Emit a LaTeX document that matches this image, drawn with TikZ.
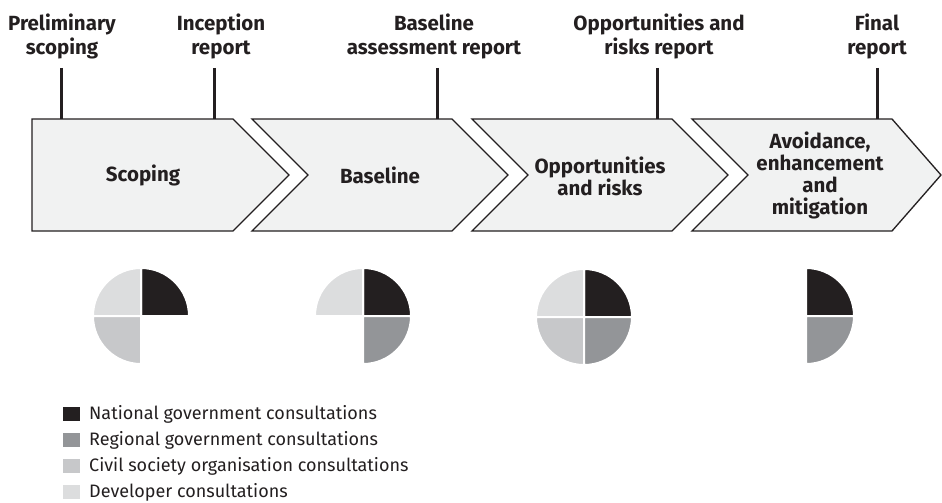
\documentclass[tikz,border=0pt]{standalone}
\usepackage{fontspec}
\setmainfont{Fira Sans}
\definecolor{ink}{HTML}{231F20}
\definecolor{panel}{HTML}{F1F2F2}
\definecolor{natc}{HTML}{231F20}
\definecolor{regc}{HTML}{939598}
\definecolor{civc}{HTML}{C7C8CA}
\definecolor{devc}{HTML}{DCDDDE}
\begin{document}
\begin{tikzpicture}[x=1pt,y=-1pt,
  milestone/.style={align=center,font=\fontsize{20.5}{24}\selectfont\bfseries,inner sep=0pt,text=ink},
  stagetext/.style={align=center,font=\fontsize{20.5}{22}\selectfont\bfseries,inner sep=0pt,text=ink},
  stagebox/.style={draw=ink,line width=1.3pt,fill=panel,line join=miter},
  tick/.style={draw=ink,line width=3pt},
  sector/.style={draw=white,line width=2pt},
  keybox/.style={minimum width=17pt,minimum height=14pt,inner sep=0pt,draw=none},
  keytext/.style={anchor=base west,font=\fontsize{18}{20}\selectfont,inner sep=0pt,text=ink}]
\useasboundingbox (0,0) rectangle (942,503);

% stage chevrons
\path[stagebox] (32,119) -- (233,119) -- (289,175) -- (233,231) -- (32,231) -- cycle;
\path[stagebox] (252,119) -- (452,119) -- (508,175) -- (452,231) -- (252,231) -- (308,175) -- cycle;
\path[stagebox] (472,119) -- (672,119) -- (728,175) -- (672,231) -- (472,231) -- (528,175) -- cycle;
\path[stagebox] (692,119) -- (892,119) -- (941,175) -- (892,231) -- (692,231) -- (748,175) -- cycle;

\node[stagetext] (s1) at (143,175) {Scoping};
\node[stagetext] (s2) at (380,175) {Baseline};
\node[stagetext] (s3) at (600,176) {Opportunities\\and risks};
\node[stagetext] (s4) at (820,175) {Avoidance,\\enhancement\\and\\mitigation};

% deliverable labels and their ticks
\node[milestone] (m1) at (62,36) {Preliminary\\scoping};
\node[milestone] (m2) at (221,36) {Inception\\report};
\node[milestone] (m3) at (434,36) {Baseline\\assessment report};
\node[milestone] (m4) at (659,36) {Opportunities and\\risks report};
\node[milestone] (m5) at (877,36) {Final\\report};

\coordinate (t1) at (61,68);  \coordinate (b1) at (61,119);
\coordinate (t2) at (214,68); \coordinate (b2) at (214,119);
\coordinate (t3) at (437,68); \coordinate (b3) at (437,119);
\coordinate (t4) at (657,68); \coordinate (b4) at (657,119);
\coordinate (t5) at (877,68); \coordinate (b5) at (877,119);
\foreach \i in {1,...,5} \draw[tick] (t\i) -- (b\i);

% consultation pies
\coordinate (p1) at (141,316);
\coordinate (p2) at (363,316);
\coordinate (p3) at (584,317);
\coordinate (p4) at (806,316);
\newcommand\slice[3]{\path[sector,fill=#3] (#1) -- ++(#2:48pt) arc[start angle=#2,delta angle=90,radius=48pt] -- cycle;}
\slice{p1}{0}{natc}\slice{p1}{90}{devc}\slice{p1}{180}{civc}
\slice{p2}{0}{natc}\slice{p2}{90}{devc}\slice{p2}{270}{regc}
\slice{p3}{0}{natc}\slice{p3}{90}{devc}\slice{p3}{180}{civc}\slice{p3}{270}{regc}
\slice{p4}{0}{natc}\slice{p4}{270}{regc}

% legend
\node[keybox,fill=natc] (k1) at (71.5,414) {};
\node[keybox,fill=regc] (k2) at (71.5,440) {};
\node[keybox,fill=civc] (k3) at (71.5,466) {};
\node[keybox,fill=devc] (k4) at (71.5,492) {};
\node[keytext] (n1) at (89,419.5) {National government consultations};
\node[keytext] (n2) at (89,445.5) {Regional government consultations};
\node[keytext] (n3) at (89,471.5) {Civil society organisation consultations};
\node[keytext] (n4) at (89,497.5) {Developer consultations};
\end{tikzpicture}
\end{document}
